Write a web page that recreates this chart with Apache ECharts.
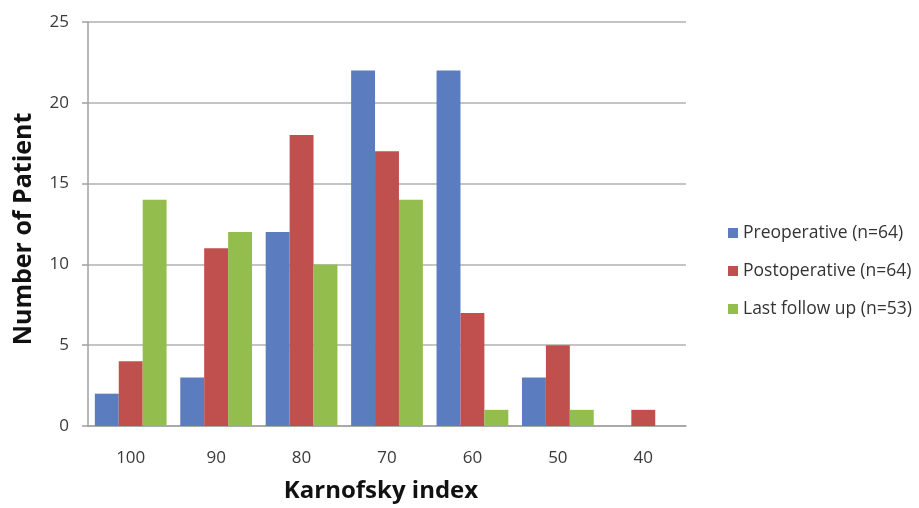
<!DOCTYPE html>
<html>
<head>
<meta charset="utf-8">
<script src="https://cdn.jsdelivr.net/npm/echarts@6/dist/echarts.min.js"></script>
<style>
  html, body { margin: 0; padding: 0; background: #fff; }
  #chart { width: 919px; height: 508px; }
</style>
</head>
<body>
<div id="chart"></div>
<script>
// Karnofsky index categories (descending)
const categories = ['100', '90', '80', '70', '60', '50', '40'];
const seriesNames = ['Preoperative (n=64)', 'Postoperative (n=64)', 'Last follow up (n=53)'];
const preoperative = [2, 3, 12, 22, 22, 3, 0];
const postoperative = [4, 11, 18, 17, 7, 5, 1];
const lastFollowUp = [14, 12, 10, 14, 1, 1, 0];
const yTicks = [0, 5, 10, 15, 20, 25];

const colors = ['#5b7dbf', '#c0504d', '#93bd4d'];
const fontFamily = '"Open Sans", "DejaVu Sans", sans-serif';

const chart = echarts.init(document.getElementById('chart'), null, { renderer: 'canvas' });

const values = [preoperative, postoperative, lastFollowUp];

chart.setOption({
  animation: false,
  color: colors,
  grid: { left: 88, right: 233, top: 22, bottom: 79, containLabel: false },
  legend: {
    orient: 'vertical',
    left: 723,
    top: 219,
    itemWidth: 10,
    itemHeight: 10,
    itemGap: 20,
    icon: 'rect',
    textStyle: { fontFamily, fontSize: 17.5, color: '#333' },
    data: seriesNames
  },
  xAxis: {
    type: 'category',
    data: categories,
    name: 'Karnofsky index',
    nameLocation: 'middle',
    nameGap: 53,
    nameTextStyle: { fontFamily, fontSize: 24, fontWeight: 'bold', color: '#111', padding: [0, 12, 0, 0] },
    axisLine: { lineStyle: { color: '#a0a0a0', width: 1.5 } },
    axisTick: { show: false },
    axisLabel: { fontFamily, fontSize: 17, color: '#3a3a3a', margin: 24 }
  },
  yAxis: {
    type: 'value',
    min: yTicks[0],
    max: yTicks[yTicks.length - 1],
    interval: 5,
    name: 'Number of Patient',
    nameLocation: 'middle',
    nameGap: 52,
    nameTextStyle: { fontFamily, fontSize: 25, fontWeight: 'bold', color: '#111', padding: [0, 10, 0, 0] },
    axisLine: { show: true, lineStyle: { color: '#a0a0a0', width: 1.5 } },
    axisTick: { show: true, length: 6, lineStyle: { color: '#a0a0a0', width: 1.5 } },
    axisLabel: { fontFamily, fontSize: 17, color: '#3a3a3a', margin: 19 },
    splitLine: { lineStyle: { color: '#b0b0b0', width: 1.5 } }
  },
  series: seriesNames.map((name, i) => ({
    name,
    type: 'bar',
    data: values[i],
    barGap: '0%',
    barCategoryGap: '16%',
    itemStyle: { color: colors[i] }
  }))
});
</script>
</body>
</html>
